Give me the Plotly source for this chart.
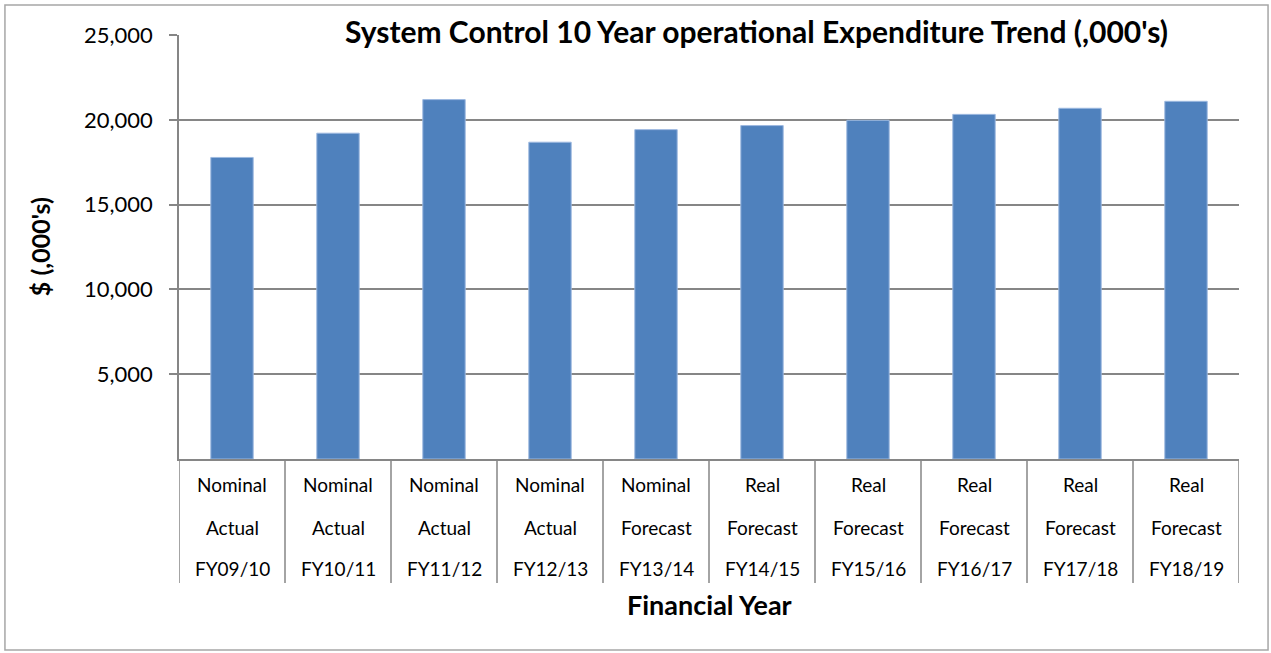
import plotly.graph_objects as go

categories = ["FY09/10", "FY10/11", "FY11/12", "FY12/13", "FY13/14",
              "FY14/15", "FY15/16", "FY16/17", "FY17/18", "FY18/19"]
basis = ["Nominal", "Nominal", "Nominal", "Nominal", "Nominal",
         "Real", "Real", "Real", "Real", "Real"]
kind = ["Actual", "Actual", "Actual", "Actual", "Forecast",
        "Forecast", "Forecast", "Forecast", "Forecast", "Forecast"]
values = [17780, 19210, 21190, 18680, 19420, 19660, 19970, 20320, 20680, 21090]
y_ticks = [5000, 10000, 15000, 20000, 25000]

FONT = "Lato"
GRID = "#868686"
BAR = "#4F81BD"

x_idx = list(range(len(categories)))

fig = go.Figure()
fig.add_trace(go.Bar(
    x=x_idx, y=values,
    marker=dict(color=BAR, line=dict(color="#9DB9E0", width=1)),
    width=0.4,
    hoverinfo="y",
))

annotations = []
rows = [basis, kind, categories]
row_y = [-0.0613, -0.1604, -0.2594]
for r, labels in enumerate(rows):
    for i, t in enumerate(labels):
        annotations.append(dict(
            x=i, y=row_y[r], xref="x", yref="paper", text=t,
            showarrow=False, xanchor="center", yanchor="middle",
            font=dict(family=FONT, size=19, color="#000000")))

annotations.append(dict(
    x=-0.131, y=0.5, xref="paper", yref="paper", text="<b>$ (,000's)</b>",
    textangle=-90, showarrow=False, xanchor="center", yanchor="middle",
    font=dict(family=FONT, size=25, color="#000000")))
annotations.append(dict(
    x=0.5, y=-0.344, xref="paper", yref="paper", text="<b>Financial Year</b>",
    showarrow=False, xanchor="center", yanchor="middle",
    font=dict(family=FONT, size=27, color="#000000")))
annotations.append(dict(
    x=0.545, y=1.0104, xref="paper", yref="paper",
    text="<b>System Control 10 Year operational Expenditure Trend (,000's)</b>",
    showarrow=False, xanchor="center", yanchor="middle",
    font=dict(family=FONT, size=30, color="#000000")))

shapes = []
for b in range(len(categories) + 1):
    shapes.append(dict(type="line", xref="x", yref="paper",
                       x0=b - 0.5, x1=b - 0.5, y0=0, y1=-0.2925,
                       line=dict(color=GRID, width=1.5)))
shapes.append(dict(type="rect", xref="paper", yref="paper",
                   x0=-0.1642, x1=1.0274, y0=-0.4505, y1=1.0708,
                   line=dict(color="#A6A6A6", width=1.5), layer="below"))

fig.update_layout(
    width=1271, height=653,
    margin=dict(l=179, r=32, t=35, b=194, autoexpand=False),
    paper_bgcolor="white", plot_bgcolor="white",
    showlegend=False,
    bargap=0.6,
    annotations=annotations,
    shapes=shapes,
    font=dict(family=FONT, color="#000000"),
)
fig.update_xaxes(
    range=[-0.5, len(categories) - 0.5],
    showticklabels=False, showgrid=False, zeroline=False,
    showline=True, linecolor=GRID, linewidth=1.5, ticks="",
)
fig.update_yaxes(
    range=[0, 25000],
    tickvals=y_ticks, ticktext=[f"{v:,}" for v in y_ticks],
    tickfont=dict(family=FONT, size=22, color="#000000"),
    showgrid=True, gridcolor=GRID, gridwidth=1.5,
    zeroline=False, showline=True, linecolor=GRID, linewidth=1.5,
    ticks="outside", ticklen=8, tickcolor=GRID, tickwidth=1.5,
    ticklabelstandoff=12,
)

fig.write_html("out.html",
               config={"displayModeBar": False},
               post_script="document.body.style.margin='0px';document.body.style.overflow='hidden';")
